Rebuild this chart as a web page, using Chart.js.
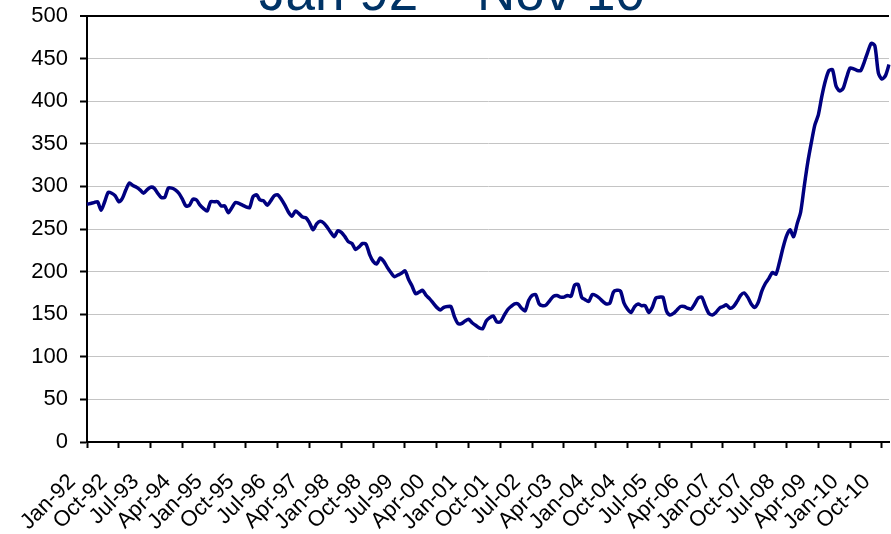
<!DOCTYPE html>
<html>
<head>
<meta charset="utf-8">
<script src="https://cdn.jsdelivr.net/npm/chart.js@4/dist/chart.umd.min.js"></script>
<style>
  html, body { margin: 0; padding: 0; background: #ffffff; overflow: hidden; }
  #wrap { position: absolute; left: 0; top: 0; width: 891px; height: 534px; }
</style>
</head>
<body>
<div id="wrap"><canvas id="c" width="891" height="534"></canvas></div>
<script>
const titleText = 'Jan 92 \u2013 Nov 10';
const monthNames = ['Jan','Feb','Mar','Apr','May','Jun','Jul','Aug','Sep','Oct','Nov','Dec'];
const startYear = 1992;
const pointCount = 228;
const labelEvery = 9;
const yTicks = [0, 50, 100, 150, 200, 250, 300, 350, 400, 450, 500];

const values = [
  279,280,281,282,272,282,293,292,289,282,
  286,296,304,301,299,296,292,296,299,298,
  292,287,287,298,298,296,292,285,277,278,
  285,284,278,274,271,282,282,282,277,277,
  269,275,281,280,278,276,275,288,290,284,
  283,278,283,289,290,285,278,270,265,271,
  268,264,263,257,249,256,259,257,252,246,
  241,248,246,241,235,233,226,229,233,232,
  220,212,209,216,212,205,199,194,196,198,
  201,191,183,174,176,178,172,168,163,158,
  155,158,159,159,147,139,139,142,144,140,
  137,134,133,142,146,148,141,141,148,155,
  159,162,162,157,154,166,172,173,162,160,
  161,166,171,172,170,170,172,171,184,185,
  170,167,165,173,172,169,165,162,163,176,
  178,177,163,156,152,159,162,160,160,152,
  158,169,170,170,154,149,151,155,159,159,
  157,156,162,169,170,160,151,149,152,157,
  159,161,157,159,165,172,175,170,162,158,
  164,177,186,192,199,197,211,228,242,249,
  241,256,270,300,328,351,372,384,406,424,
  436,437,418,412,415,428,439,438,436,436,
  446,458,468,465,433,426,430,443
];

const categories = [];
for (let i = 0; i < pointCount; i++) {
  const m = i % 12;
  const y = startYear + Math.floor(i / 12);
  categories.push(monthNames[m] + '-' + String(y % 100).padStart(2, '0'));
}

const FONT = "'Liberation Sans', Arial, sans-serif";

const titlePlugin = {
  id: 'cutTitle',
  afterDraw(chart) {
    const ctx = chart.ctx;
    ctx.save();
    ctx.font = '53px ' + FONT;
    ctx.fillStyle = '#003366';
    ctx.textAlign = 'center';
    ctx.textBaseline = 'alphabetic';
    ctx.fillText(titleText, 452, 10);
    ctx.restore();
  }
};

new Chart(document.getElementById('c'), {
  type: 'line',
  data: {
    labels: categories,
    datasets: [{
      data: values,
      borderColor: '#000080',
      borderWidth: 3.5,
      pointRadius: 0,
      tension: 0.25,
      fill: false
    }]
  },
  options: {
    responsive: false,
    animation: false,
    devicePixelRatio: 1,
    layout: { padding: { top: 16, right: 2, left: 0, bottom: 0 } },
    plugins: { legend: { display: false }, tooltip: { enabled: false }, title: { display: false } },
    scales: {
      x: {
        type: 'category',
        offset: false,
        border: { display: true, color: '#000000', width: 2 },
        grid: {
          display: true,
          drawOnChartArea: false,
          drawTicks: true,
          tickLength: 6,
          tickColor: '#000000',
          tickWidth: 2
        },
        ticks: {
          autoSkip: false,
          minRotation: 45,
          maxRotation: 45,
          padding: 21,
          labelOffset: -15,
          color: '#000000',
          font: { family: FONT, size: 22 },
          callback: function(val, idx) {
            return idx % labelEvery === 0 ? categories[idx] : null;
          }
        },
        afterFit(scale) {
          scale.height = 92;
          scale.paddingLeft = 0;
          scale.paddingRight = 0;
        }
      },
      y: {
        min: 0,
        max: 500,
        afterBuildTicks(scale) { scale.ticks = yTicks.map(v => ({ value: v })); },
        border: { display: true, color: '#000000', width: 2 },
        grid: {
          color: (ctx) => (ctx.tick && ctx.tick.value === 500) ? '#000000' : '#c4c4c4',
          lineWidth: (ctx) => (ctx.tick && ctx.tick.value === 500) ? 2 : 1,
          borderDash: [2, 2],
          drawTicks: true,
          tickLength: 7,
          tickColor: '#000000',
          tickWidth: 2,
          tickBorderDash: []
        },
        ticks: {
          padding: 12,
          color: '#000000',
          font: { family: FONT, size: 22 }
        },
        afterFit(scale) {
          scale.width = 87;
          scale.paddingTop = 0;
          scale.paddingBottom = 0;
        }
      }
    }
  },
  plugins: [titlePlugin]
});
</script>
</body>
</html>
